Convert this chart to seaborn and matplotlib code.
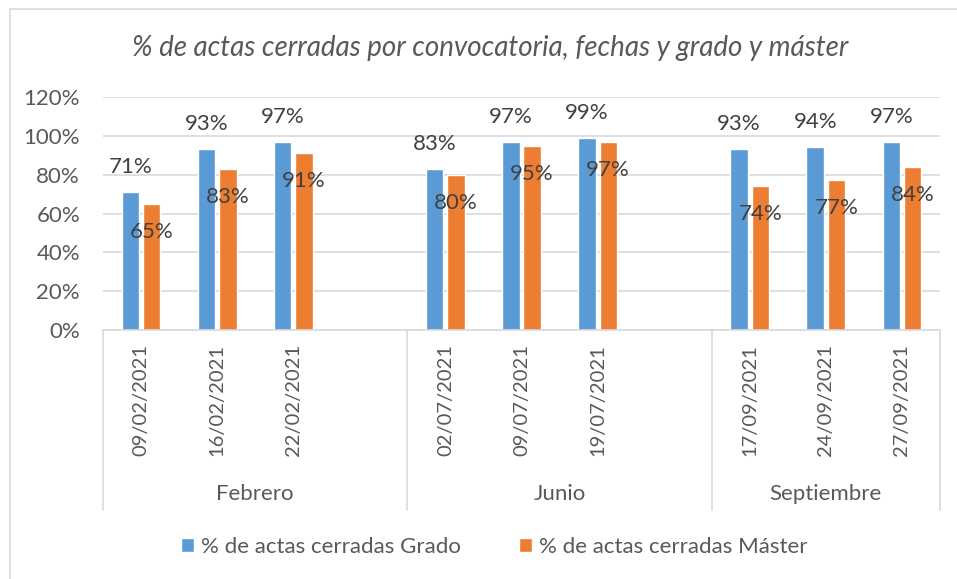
import numpy as np
import pandas as pd
import matplotlib
matplotlib.use("Agg")
import matplotlib.pyplot as plt
import seaborn as sns

# ---- data ----
months = ["Febrero", "Junio", "Septiembre"]
dates_feb = ["09/02/2021", "16/02/2021", "22/02/2021"]
dates_jun = ["02/07/2021", "09/07/2021", "19/07/2021"]
dates_sep = ["17/09/2021", "24/09/2021", "27/09/2021"]
grado = [71, 93, 97, 83, 97, 99, 93, 94, 97]
master = [65, 83, 91, 80, 95, 97, 74, 77, 84]
series_names = ["% de actas cerradas Grado", "% de actas cerradas Máster"]
title = "% de actas cerradas por convocatoria, fechas y grado y máster"
yticks = [0, 20, 40, 60, 80, 100, 120]

sns.set_theme(style="white")
plt.rcParams["font.family"] = ["Lato", "DejaVu Sans"]

dates = dates_feb + dates_jun + dates_sep
month_of = ["Febrero"] * 3 + ["Junio"] * 3 + ["Septiembre"] * 3
df = pd.DataFrame({
    "fecha": dates * 2,
    "mes": month_of * 2,
    "serie": [series_names[0]] * 9 + [series_names[1]] * 9,
    "valor": grado + master,
})
order = dates_feb + ["_g1"] + dates_jun + ["_g2"] + dates_sep

W, H = 957, 579
fig = plt.figure(figsize=(W / 100, H / 100), dpi=100)
L, R, T, B = 103, 940, 97, 330
ax = fig.add_axes([L / W, 1 - B / H, (R - L) / W, (B - T) / H])

blue, orange = "#5B9BD5", "#ED7D31"
sns.barplot(data=df, x="fecha", y="valor", hue="serie", order=order,
            hue_order=series_names, palette=[blue, orange], width=0.56,
            gap=0.18, saturation=1, ax=ax, legend=True)

ax.set_ylim(0, 120)
ax.set_xlim(-0.5, len(order) - 0.5)
ax.set_yticks(yticks)
ax.set_yticklabels([f"{v}%" for v in yticks], color="#595959", fontsize=16)
ax.tick_params(axis="y", length=0, pad=16.5)
ax.set_xticks([])
ax.set_xlabel("")
ax.set_ylabel("")
ax.grid(axis="y", color="#D9D9D9", lw=1.2)
ax.set_axisbelow(True)
for s in ["left", "right", "top"]:
    ax.spines[s].set_visible(False)
ax.spines["bottom"].set_color("#D9D9D9")
ax.spines["bottom"].set_linewidth(1.2)

# data labels
for ci, cont in enumerate(ax.containers):
    for bar in cont:
        h = bar.get_height()
        if np.isnan(h):
            continue
        cx = bar.get_x() + bar.get_width() / 2
        dy = 25 if ci == 0 else -28
        ax.annotate(f"{h:.0f}%", (cx, h), xytext=(0, dy), textcoords="offset pixels",
                    ha="center", va="center", fontsize=16, color="#404040")

# multi-level category axis
trans = ax.get_xaxis_transform()
axh = B - T
for i, lab in enumerate(order):
    if lab.startswith("_"):
        continue
    ax.text(i, -14 / axh, lab, transform=trans, rotation=90, ha="center", va="top",
            fontsize=14.5, color="#595959")
bounds = [-0.5, 3.5, 7.5, 10.5]
for b in bounds:
    ax.plot([b, b], [0, -(510 - B) / axh], transform=trans, color="#D9D9D9",
            lw=1.2, clip_on=False)
for m, (a, b) in zip(months, zip(bounds[:-1], bounds[1:])):
    ax.text((a + b) / 2, -(494 - B) / axh, m, transform=trans, ha="center",
            va="center", fontsize=16, color="#595959")

# legend
handles, labels = ax.get_legend_handles_labels()
ax.get_legend().remove()
fig.legend(handles, labels, loc="center", bbox_to_anchor=(494 / W, 1 - 547 / H),
           ncol=2, frameon=False, fontsize=16, handlelength=0.6, handleheight=0.6,
           handletextpad=0.3, columnspacing=2.6, labelcolor="#595959")

fig.text(490 / W, 1 - 48 / H, title, ha="center", va="center", fontsize=20,
         style="italic", color="#595959")

# chart area border
fig.patches.append(plt.Rectangle((10 / W, -0.1), 1.2, 1 - 9 / H + 0.1,
                                 transform=fig.transFigure, fill=False,
                                 ec="#D9D9D9", lw=1.2))

fig.savefig("out.png", dpi=100)
